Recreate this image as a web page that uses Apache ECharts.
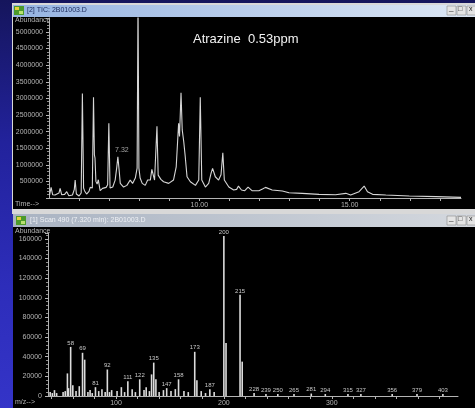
<!DOCTYPE html>
<html>
<head>
<meta charset="utf-8">
<script src="https://cdn.jsdelivr.net/npm/echarts@6/dist/echarts.min.js"></script>
<style>
 html, body { margin: 0; padding: 0; background: #1c1c78; }
 #gcms-chart { width: 475px; height: 408px; }
</style>
</head>
<body>
<div id="gcms-chart"></div>
<script>
// TIC trace (retention time in min, abundance)
const ticTime = [5.02, 5.07, 5.12, 5.20, 5.33, 5.37, 5.42, 5.52, 5.59, 5.66, 5.78, 5.84, 5.87, 5.91, 6.00, 6.07, 6.11, 6.15, 6.18, 6.25,
 6.33, 6.37, 6.44, 6.48, 6.51, 6.53, 6.56, 6.60, 6.64, 6.70, 6.78, 6.90, 6.95, 6.99, 7.03, 7.12, 7.20, 7.25, 7.29, 7.33,
 7.37, 7.48, 7.59, 7.65, 7.70, 7.78, 7.87, 7.93, 7.96, 7.99, 8.03, 8.10, 8.20, 8.28, 8.37, 8.42, 8.46, 8.51, 8.55, 8.59,
 8.63, 8.72, 8.81, 8.98, 9.14, 9.23, 9.31, 9.34, 9.39, 9.43, 9.48, 9.53, 9.59, 9.70, 9.87, 9.98, 10.03, 10.08, 10.20, 10.31,
 10.39, 10.44, 10.53, 10.64, 10.72, 10.78, 10.83, 10.98, 11.14, 11.24, 11.30, 11.40, 11.51, 11.62, 11.75, 11.98, 12.10, 12.20, 12.42, 12.76,
 12.98, 13.42, 13.98, 14.53, 14.87, 15.03, 15.31, 15.48, 15.59, 15.76, 16.20, 16.98, 17.87, 18.70]
const ticAbundance = [90000, 320000, 100000, 90000, 150000, 290000, 100000, 110000, 190000, 70000, 90000, 250000, 540000, 120000, 60000, 150000, 3150000, 300000, 220000, 120000,
 200000, 320000, 300000, 3030000, 1300000, 1200000, 500000, 420000, 550000, 220000, 290000, 320000, 400000, 2250000, 300000, 330000, 540000, 900000, 1240000, 860000,
 440000, 330000, 380000, 440000, 540000, 440000, 600000, 900000, 6000000, 900000, 600000, 440000, 380000, 540000, 540000, 860000, 920000, 540000, 600000, 2160000,
 690000, 560000, 490000, 440000, 540000, 940000, 2250000, 1850000, 3170000, 2050000, 1700000, 1250000, 640000, 490000, 380000, 540000, 3030000, 540000, 330000, 440000,
 750000, 890000, 640000, 540000, 700000, 1360000, 540000, 330000, 240000, 260000, 360000, 240000, 220000, 330000, 220000, 220000, 270000, 320000, 240000, 210000,
 160000, 140000, 110000, 100000, 140000, 90000, 190000, 360000, 190000, 110000, 90000, 60000, 40000, 20000]
const ticPeakTime = [7.29]
const ticPeakAbundance = [1240000]
const ticPeakText = ['7.32']
const ticLabelTimes = [10, 15]

// mass spectrum of scan 490
const msMz = [39, 41, 43, 45, 51, 53, 55, 56, 58, 60, 63, 66, 69, 71, 74, 76, 78, 81, 84, 87,
 90, 92, 94, 96, 101, 105, 108, 111, 115, 118, 122, 126, 128, 131, 133, 135, 137, 140, 144, 147,
 151, 155, 158, 163, 167, 173, 175, 179, 183, 187, 191, 200, 202, 215, 217, 228, 239, 250, 265, 281,
 294, 315, 327, 356, 379, 403]
const msAbundance = [4000, 3000, 6000, 3000, 4000, 5000, 23000, 8000, 50000, 11000, 5000, 10000, 44000, 37000, 4000, 6000, 3000, 9000, 5000, 7000,
 4000, 27000, 4000, 6000, 5000, 9000, 4000, 15000, 7000, 4000, 17000, 6000, 9000, 5000, 22000, 34000, 17000, 4000, 6000, 8000,
 5000, 7000, 17000, 5000, 4000, 45000, 16000, 5000, 3000, 7000, 4000, 163000, 54000, 103000, 35000, 3000, 2000, 2000, 2000, 2500,
 2000, 2000, 2000, 2000, 2000, 2000]
const msLabeled = [58, 69, 81, 92, 111, 122, 135, 147, 158, 173, 187, 200, 215, 228, 239, 250, 265, 281, 294, 315, 327, 356, 379, 403]
const msTickMz = [40, 60, 80, 100, 120, 140, 160, 180, 200, 220, 240, 260, 280, 300, 320, 340, 360, 380, 400]
const msLabelMz = [100, 200, 300]

const FONT = 'Liberation Sans'
const axisGray = '#b4b4b4'

const textEl = (text, left, top, size, color, weight) => ({
 type: 'text', left: left, top: top, z: 5, silent: true,
 style: { text: text, fontSize: size, fontFamily: FONT, fontWeight: weight || 'normal', fill: color }
})

const buttons = (y) => [
 { type: 'rect', shape: { x: 447, y: y, width: 9, height: 9 }, style: { fill: '#e4e4e4', stroke: '#8a8a8a', lineWidth: 0.6 }, z: 4 },
 { type: 'rect', shape: { x: 457, y: y, width: 9, height: 9 }, style: { fill: '#e4e4e4', stroke: '#8a8a8a', lineWidth: 0.6 }, z: 4 },
 { type: 'rect', shape: { x: 467, y: y, width: 9, height: 9 }, style: { fill: '#e4e4e4', stroke: '#8a8a8a', lineWidth: 0.6 }, z: 4 },
 textEl('_', 449, y - 2, 8, '#222'),
 textEl('□', 458, y, 7, '#222'),
 textEl('x', 469, y, 7, '#222')
]

const icon = (x, y) => [
 { type: 'rect', shape: { x: x, y: y, width: 10, height: 9 }, style: { fill: '#4c9a2a' }, z: 4 },
 { type: 'rect', shape: { x: x + 1, y: y + 1, width: 4, height: 3 }, style: { fill: '#e6d23a' }, z: 4 },
 { type: 'rect', shape: { x: x + 5, y: y + 5, width: 4, height: 3 }, style: { fill: '#b8e070' }, z: 4 }
]

const setOption = () => {
 return {
  animation: false,
  textStyle: { fontFamily: FONT },
  graphic: [
   {
    type: 'rect', shape: { x: 0, y: 0, width: 475, height: 408 }, z: -30, silent: true,
    style: { fill: new echarts.graphic.LinearGradient(0, 0, 0, 1, [
     { offset: 0, color: '#15155c' }, { offset: 0.35, color: '#22229c' },
     { offset: 0.7, color: '#2d2dba' }, { offset: 1, color: '#3434c8' }]) }
   },
   // upper window (TIC)
   { type: 'rect', shape: { x: 12, y: 3, width: 463, height: 211 }, style: { fill: '#d8d8d8' }, z: -20, silent: true },
   {
    type: 'rect', shape: { x: 13, y: 5, width: 462, height: 12 }, z: -19, silent: true,
    style: { fill: new echarts.graphic.LinearGradient(0, 0, 1, 0, [
     { offset: 0, color: '#96b4e2' }, { offset: 1, color: '#dde7f4' }]) }
   },
   { type: 'rect', shape: { x: 13, y: 17, width: 462, height: 192 }, style: { fill: '#000' }, z: -19, silent: true },
   ...icon(14, 6),
   textEl('[2] TIC: 2B01003.D', 27, 7, 7, '#1a2858'),
   ...buttons(6),
   // lower window (spectrum)
   {
    type: 'rect', shape: { x: 13, y: 214, width: 462, height: 13 }, z: -19, silent: true,
    style: { fill: new echarts.graphic.LinearGradient(0, 0, 1, 0, [
     { offset: 0, color: '#a9b3c2' }, { offset: 1, color: '#d4d8de' }]) }
   },
   { type: 'rect', shape: { x: 13, y: 227, width: 462, height: 181 }, style: { fill: '#000' }, z: -19, silent: true },
   ...icon(16, 216),
   textEl('[1] Scan 490 (7.320 min): 2B01003.D', 30, 217, 7, '#eef0f4'),
   ...buttons(216),
   // axis captions and annotation
   textEl('Abundance', 15, 17, 7, axisGray),
   textEl('Time-->', 15, 201, 7, axisGray),
   textEl('Abundance', 15, 228, 7, axisGray),
   textEl('m/z-->', 15, 399, 7, axisGray),
   textEl('Atrazine  0.53ppm', 193, 33, 13, '#f2f2f2')
  ],
  grid: [
   { left: 49, right: 14, top: 18, bottom: 210 },
   { left: 48, right: 17, top: 233, bottom: 12 }
  ],
  xAxis: [
   {
    type: 'value', gridIndex: 0, min: 5, max: 18.7, interval: 1,
    axisLine: { lineStyle: { color: axisGray, width: 1 } },
    axisTick: { length: 3, lineStyle: { color: axisGray } },
    axisLabel: {
     color: axisGray, fontSize: 7, margin: 4, showMaxLabel: false, showMinLabel: false,
     formatter: (v) => ticLabelTimes.includes(v) ? v.toFixed(2) : ''
    },
    splitLine: { show: false }
   },
   {
    type: 'value', gridIndex: 1, min: 37, max: 417,
    axisLine: { lineStyle: { color: axisGray, width: 1 } },
    axisTick: { length: 3, customValues: msTickMz, lineStyle: { color: axisGray } },
    axisLabel: { color: axisGray, fontSize: 7, margin: 4, customValues: msLabelMz },
    splitLine: { show: false }
   }
  ],
  yAxis: [
   {
    type: 'value', gridIndex: 0, min: 0, max: 5420000, interval: 500000,
    axisLine: { show: true, lineStyle: { color: axisGray, width: 1 } },
    axisTick: { show: true, length: 3, lineStyle: { color: axisGray } },
    minorTick: { show: true, splitNumber: 5, length: 2, lineStyle: { color: '#8c8c8c' } },
    axisLabel: {
     color: axisGray, fontSize: 7, margin: 6, showMaxLabel: false,
     formatter: (v) => (v > 0 && v % 500000 === 0) ? String(v) : ''
    },
    splitLine: { show: false }
   },
   {
    type: 'value', gridIndex: 1, min: 0, max: 166000, interval: 20000,
    axisLine: { show: true, lineStyle: { color: axisGray, width: 1 } },
    axisTick: { show: true, length: 3, lineStyle: { color: axisGray } },
    minorTick: { show: true, splitNumber: 5, length: 2, lineStyle: { color: '#8c8c8c' } },
    axisLabel: {
     color: axisGray, fontSize: 7, margin: 6, showMaxLabel: false,
     formatter: (v) => v % 20000 === 0 ? String(v) : ''
    },
    splitLine: { show: false }
   }
  ],
  series: [
   {
    name: 'TIC',
    type: 'line',
    xAxisIndex: 0, yAxisIndex: 0,
    showSymbol: false,
    clip: true,
    lineStyle: { color: '#d6d6d6', width: 1.1 },
    data: ticTime.map((t, i) => [t, ticAbundance[i]])
   },
   {
    name: 'TIC peak',
    type: 'scatter',
    xAxisIndex: 0, yAxisIndex: 0,
    symbolSize: 0,
    label: {
     show: true, position: 'top', distance: 3, offset: [4, 0],
     color: '#c8c8c8', fontSize: 7,
     formatter: (p) => ticPeakText[p.dataIndex]
    },
    data: ticPeakTime.map((t, i) => [t, ticPeakAbundance[i]])
   },
   {
    name: 'Scan 490',
    type: 'bar',
    xAxisIndex: 1, yAxisIndex: 1,
    barWidth: 1.6,
    itemStyle: { color: '#dcdcdc' },
    label: {
     show: true, position: 'top', distance: 1,
     color: '#c8c8c8', fontSize: 6,
     formatter: (p) => msLabeled.includes(p.value[0]) ? String(p.value[0]) : ''
    },
    data: msMz.map((m, i) => [m, msAbundance[i]])
   }
  ]
 }
}

const initChart = () => {
 const chartDom = document.getElementById('gcms-chart')
 if (chartDom) {
  const myChart = echarts.init(chartDom, null, { renderer: 'canvas' })
  myChart.setOption(setOption(), true)
 }
}
initChart()
</script>
</body>
</html>
